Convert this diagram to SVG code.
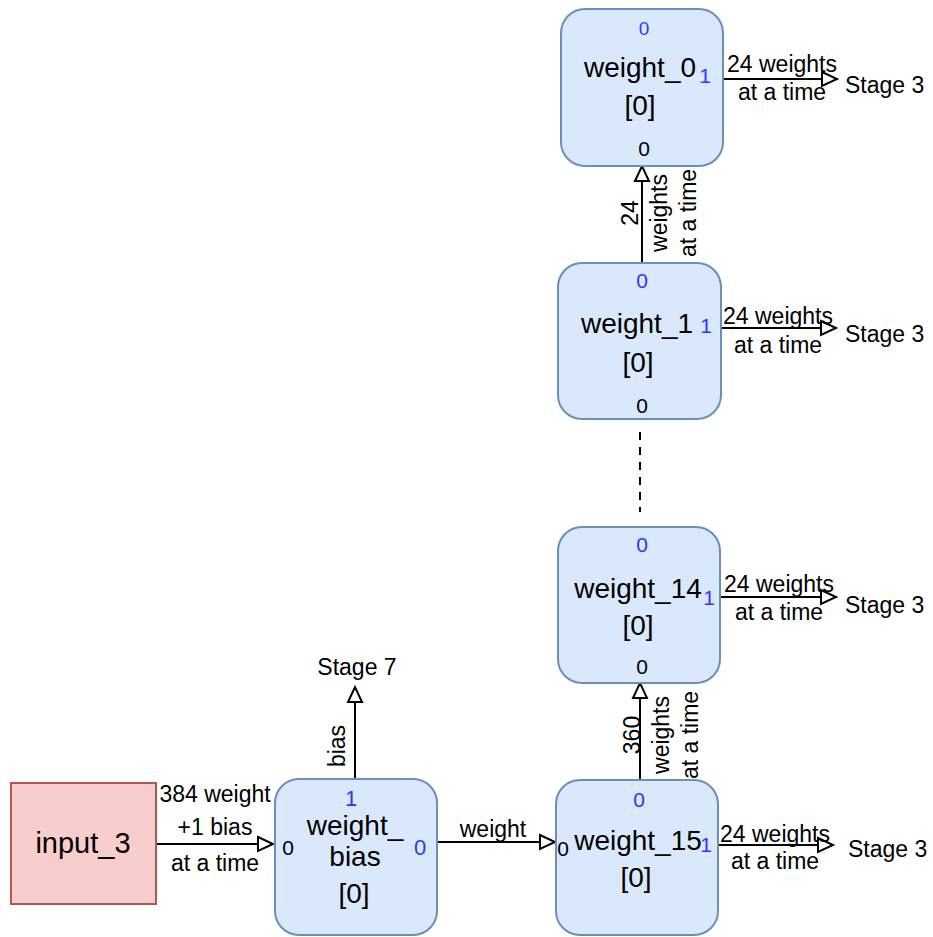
<svg xmlns="http://www.w3.org/2000/svg" width="933" height="937" viewBox="0 0 933 937">
<style>
text{font-family:"Liberation Sans",Arial,Helvetica,sans-serif;fill:#000}
.box{fill:#dae8fc;stroke:#6c8ebf;stroke-width:2}
.inp{fill:#f8cecc;stroke:#b85450;stroke-width:2}
.main{font-size:28px;text-anchor:middle}
.lbl{font-size:23px;text-anchor:middle}
.lbll{font-size:23px}
.port{font-size:21px;text-anchor:middle}
.blue{fill:#3333ff}
.edge{stroke:#000;stroke-width:2;fill:none}
.arr{marker-end:url(#tri)}
.dash{stroke-dasharray:8 7}
</style>
<defs>
<marker id="tri" markerUnits="userSpaceOnUse" markerWidth="20" markerHeight="18" refX="16" refY="8" orient="auto" overflow="visible">
<path d="M1,1 L16,8 L1,15 Z" fill="#fff" stroke="#000" stroke-width="2"/>
</marker>
</defs>

<g id="connectors">
<line class="edge arr" x1="156" y1="844" x2="273" y2="844"/>
<line class="edge arr" x1="437" y1="842" x2="555" y2="842"/>
<line class="edge arr" x1="355" y1="779" x2="355" y2="687"/>
<line class="edge arr" x1="640" y1="780" x2="640" y2="683"/>
<line class="edge dash" x1="640" y1="432" x2="640" y2="512"/>
<line class="edge arr" x1="642" y1="263" x2="642" y2="166"/>
<line class="edge arr" x1="723" y1="79" x2="837" y2="79"/>
<line class="edge arr" x1="721" y1="328" x2="836" y2="328"/>
<line class="edge arr" x1="720" y1="597" x2="836" y2="597"/>
<line class="edge arr" x1="718" y1="845" x2="833" y2="845"/>

<text class="lbl" x="215" y="802">384 weight</text>
<text class="lbl" x="215" y="835">+1 bias</text>
<text class="lbl" x="215" y="871">at a time</text>
<text class="lbl" x="493" y="837">weight</text>
<text class="lbl" transform="translate(345,746) rotate(-90)">bias</text>
<text class="lbl" transform="translate(0,735) rotate(-90)"><tspan x="0" y="640">360</tspan><tspan x="0" y="669">weights</tspan><tspan x="0" y="698">at a time</tspan></text>
<text class="lbl" transform="translate(0,213) rotate(-90)"><tspan x="0" y="638">24</tspan><tspan x="0" y="667">weights</tspan><tspan x="0" y="696">at a time</tspan></text>
<text class="lbl" x="782" y="72">24 weights</text>
<text class="lbl" x="782" y="100">at a time</text>
<text class="lbl" x="778" y="324">24 weights</text>
<text class="lbl" x="778" y="353">at a time</text>
<text class="lbl" x="779" y="592">24 weights</text>
<text class="lbl" x="779" y="620">at a time</text>
<text class="lbl" x="775" y="842">24 weights</text>
<text class="lbl" x="775" y="869">at a time</text>
</g>

<g id="stage7"><text class="lbl" x="357" y="675">Stage 7</text></g>
<g id="stage3_a"><text class="lbll" x="845" y="93">Stage 3</text></g>
<g id="stage3_b"><text class="lbll" x="845" y="342">Stage 3</text></g>
<g id="stage3_c"><text class="lbll" x="845" y="613">Stage 3</text></g>
<g id="stage3_d"><text class="lbll" x="848" y="857">Stage 3</text></g>

<g id="input_3">
<rect class="inp" x="11" y="783" width="145" height="121"/>
<text class="main" x="83" y="853" style="font-size:29px">input_3</text>
</g>

<g id="weight_bias">
<rect class="box" x="275" y="779" width="162" height="156" rx="24" ry="24"/>
<text class="port blue" x="351" y="806" style="font-size:22px">1</text>
<text class="main" x="355" y="835">weight_</text>
<text class="main" x="355" y="866">bias</text>
<text class="main" x="354" y="903">[0]</text>
<text class="port" x="288" y="855">0</text>
<text class="port blue" x="420" y="855" style="font-size:22px">0</text>
</g>

<g id="weight_15">
<rect class="box" x="556" y="780" width="162" height="155" rx="24" ry="24"/>
<text class="port blue" x="639" y="807">0</text>
<text class="main" x="638" y="850">weight_15</text>
<text class="main" x="636" y="887">[0]</text>
<text class="port" x="563" y="856">0</text>
<text class="port blue" x="706" y="852">1</text>
</g>

<g id="weight_14">
<rect class="box" x="558" y="527" width="162" height="156" rx="24" ry="24"/>
<text class="port blue" x="642" y="552">0</text>
<text class="main" x="638" y="598">weight_14</text>
<text class="main" x="638" y="635">[0]</text>
<text class="port" x="642" y="674">0</text>
<text class="port blue" x="709" y="605">1</text>
</g>

<g id="weight_1">
<rect class="box" x="558" y="263" width="163" height="156" rx="24" ry="24"/>
<text class="port blue" x="642" y="288">0</text>
<text class="main" x="637" y="333">weight_1</text>
<text class="main" x="638" y="372">[0]</text>
<text class="port" x="642" y="413">0</text>
<text class="port blue" x="706" y="333">1</text>
</g>

<g id="weight_0">
<rect class="box" x="561" y="9" width="162" height="157" rx="24" ry="24"/>
<text class="port blue" x="644" y="35" style="font-size:19px">0</text>
<text class="main" x="640" y="77">weight_0</text>
<text class="main" x="640" y="115">[0]</text>
<text class="port" x="644" y="156">0</text>
<text class="port blue" x="705" y="83">1</text>
</g>
</svg>
